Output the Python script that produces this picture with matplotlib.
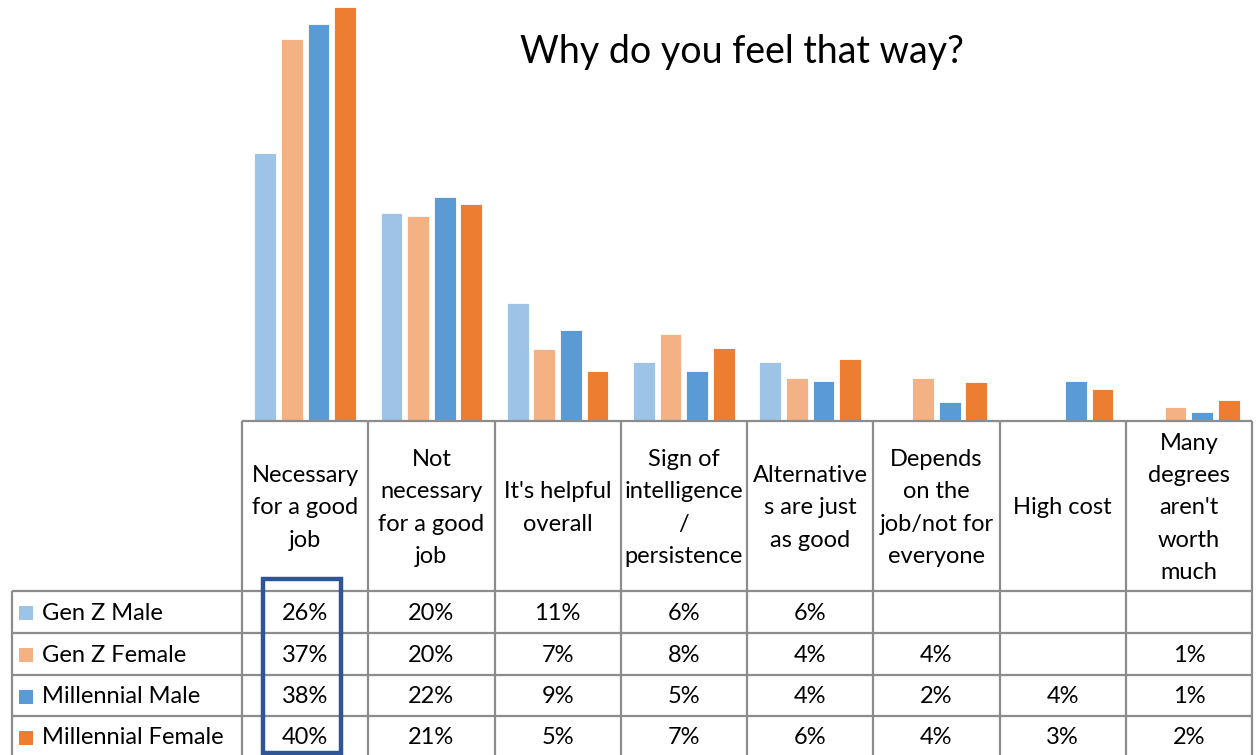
import numpy as np
import matplotlib
matplotlib.use("Agg")
import matplotlib.pyplot as plt
from matplotlib.patches import Rectangle

plt.rcParams['font.family'] = ['Lato', 'DejaVu Sans']

categories = ["Necessary\nfor a good\njob", "Not\nnecessary\nfor a good\njob", "It's helpful\noverall",
              "Sign of\nintelligence\n/\npersistence", "Alternative\ns are just\nas good",
              "Depends\non the\njob/not for\neveryone", "High cost", "Many\ndegrees\naren't\nworth\nmuch"]
series_names = ["Gen Z Male", "Gen Z Female", "Millennial Male", "Millennial Female"]
gen_z_male = [0.259, 0.201, 0.114, 0.057, 0.057, np.nan, np.nan, np.nan]
gen_z_female = [0.369, 0.198, 0.070, 0.084, 0.042, 0.042, np.nan, 0.014]
millennial_male = [0.384, 0.216, 0.088, 0.048, 0.039, 0.018, 0.039, 0.009]
millennial_female = [0.400, 0.210, 0.048, 0.071, 0.060, 0.038, 0.031, 0.020]
colors = ["#9DC3E6", "#F4B183", "#5B9BD5", "#ED7D31"]

series = [gen_z_male, gen_z_female, millennial_male, millennial_female]

W, H = 1256, 755
fig = plt.figure(figsize=(W / 100, H / 100), dpi=100)

def fx(px):
    return px / W

def fy(py):
    return 1 - py / H

ax = fig.add_axes([fx(242), fy(421), (1252 - 242) / W, 421 / H])
n = len(categories)
x = np.arange(n) + 0.5
pitch = 0.211
bw = 0.172
for i, (vals, c) in enumerate(zip(series, colors)):
    ax.bar(x + (i - 1.5) * pitch, vals, width=bw, color=c, edgecolor='white', linewidth=0.6, zorder=2)
ax.set_xlim(0, n)
ax.set_ylim(0, 0.4068)
ax.axis('off')

tx = fig.add_axes([0, 0, 1, 1])
tx.set_xlim(0, W)
tx.set_ylim(H, 0)
tx.axis('off')
tx.patch.set_alpha(0)

lc = '#8C8C8C'
lw = 1.6
col_x = np.linspace(242, 1252, n + 1)
row_y = [591, 633, 675, 716, 757]

tx.plot([242, 1252], [421, 421], color=lc, lw=lw, solid_capstyle='butt')
for cxp in col_x:
    tx.plot([cxp, cxp], [421, 757], color=lc, lw=lw, solid_capstyle='butt')
tx.plot([12, 12], [591, 757], color=lc, lw=lw, solid_capstyle='butt')
for ry in row_y[:-1]:
    tx.plot([12, 1252], [ry, ry], color=lc, lw=lw, solid_capstyle='butt')

fs = 17
for j, cat in enumerate(categories):
    cxp = (col_x[j] + col_x[j + 1]) / 2
    tx.text(cxp, 508, cat, ha='center', va='center', fontsize=fs, linespacing=1.66, color='black')

for i, (name, vals, c) in enumerate(zip(series_names, series, colors)):
    cy = (row_y[i] + row_y[i + 1]) / 2 + 1
    tx.add_patch(Rectangle((19, cy - 7), 14, 14, facecolor=c, edgecolor='none'))
    tx.text(42, cy, name, ha='left', va='center', fontsize=fs, color='black')
    for j, v in enumerate(vals):
        if np.isnan(v):
            continue
        cxp = (col_x[j] + col_x[j + 1]) / 2
        tx.text(cxp, cy, f"{v * 100:.0f}%", ha='center', va='center', fontsize=fs, color='black')

tx.add_patch(Rectangle((263, 579), 78, 174, facecolor='none', edgecolor='#2F5597', linewidth=3.2, zorder=5))

fig.text(fx(742), fy(52), "Why do you feel that way?", ha='center', va='center', fontsize=27, color='black')

fig.savefig("out.png", dpi=100)
